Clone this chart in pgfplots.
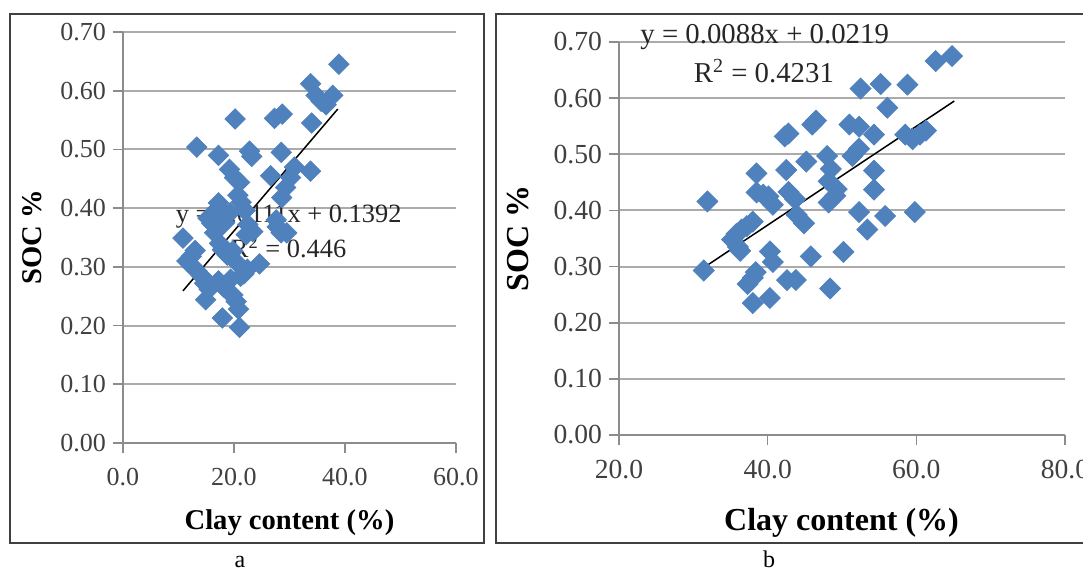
\documentclass[border=0pt]{standalone}
\usepackage{fontspec}
\setmainfont{Liberation Serif}
\usepackage{pgfplots}
\pgfplotsset{compat=1.18}
\definecolor{mk}{HTML}{4F81BD}
\definecolor{gridc}{HTML}{ABABAB}
\definecolor{axc}{HTML}{8C8C8C}
\definecolor{tkc}{HTML}{404040}
\definecolor{boxc}{HTML}{404040}
\pgfplotsset{excel/.style={
  scale only axis, clip=false,
  axis x line*=bottom, axis y line*=left,
  axis line style={axc, line width=0.8pt},
  ymin=0, ymax=0.7, ytick={0,0.1,0.2,0.3,0.4,0.5,0.6,0.7},
  ymajorgrids, major grid style={gridc, line width=1pt},
  tick align=outside, major tick length=5pt,
  major tick style={axc, line width=0.8pt},
  /pgf/number format/assume math mode=true,
  ticklabel style={text=tkc},
  yticklabel style={/pgf/number format/.cd, fixed, fixed zerofill, precision=2},
  xticklabel style={/tikz/yshift=-4pt, /pgf/number format/.cd, fixed, fixed zerofill, precision=1},
}}
\begin{document}
\begin{tikzpicture}
\useasboundingbox (0,0) rectangle (541.5pt,285.5pt);
% panel frames
\draw[boxc, line width=0.75pt] (5pt,14pt) rectangle (242pt,278.5pt);
\draw[boxc, line width=0.75pt] (545pt,278.5pt) -- (248pt,278.5pt) -- (248pt,14pt) -- (545pt,14pt);
\node[anchor=base, font=\fontsize{12}{14}\selectfont] at (120pt,1.5pt) {a};
\node[anchor=base, font=\fontsize{12}{14}\selectfont] at (384.5pt,1.5pt) {b};

% ---------------- panel a ----------------
\begin{axis}[excel,
  at={(61.5pt,64pt)}, anchor=south west,
  width=166.5pt, height=205.5pt,
  xmin=0, xmax=60, xtick={0,20,40,60},
  tick label style={font=\fontsize{13}{15}\selectfont},
  xlabel={Clay content (\%)}, ylabel={SOC \%},
  label style={font=\bfseries\fontsize{14.3}{16}\selectfont},
  xlabel style={at={(axis description cs:0.5,-0.195)}, anchor=center},
  ylabel style={at={(axis description cs:-0.273,0.501)}, anchor=center},
]
\addplot[only marks, mark=square*, mark size=3.6pt, mark options={rotate=45, fill=mk, draw=mk}]
coordinates {
(10.8,0.349) (11.5,0.310) (12.3,0.318) (13.0,0.328) (12.4,0.302) (13.3,0.293)
(14.2,0.284) (14.7,0.272) (15.5,0.262) (14.9,0.244) (13.3,0.504) (17.2,0.490)
(15.3,0.383) (16.0,0.374) (16.8,0.397) (17.2,0.409) (16.5,0.358) (17.4,0.340)
(17.9,0.329) (18.8,0.320) (19.8,0.327) (20.3,0.309) (17.2,0.276) (18.1,0.266)
(19.0,0.258) (19.8,0.252) (19.4,0.279) (20.4,0.241) (20.8,0.228) (17.9,0.213)
(21.0,0.197) (21.2,0.284) (21.8,0.288) (22.4,0.296) (19.2,0.466) (20.1,0.452)
(21.0,0.444) (20.7,0.422) (21.3,0.410) (22.0,0.396) (19.3,0.392) (18.3,0.375)
(22.5,0.372) (22.2,0.355) (23.4,0.360) (20.2,0.552) (22.8,0.497) (23.2,0.488)
(24.6,0.305) (26.6,0.455) (27.3,0.553) (28.7,0.560) (28.5,0.495) (27.6,0.380)
(27.8,0.368) (28.5,0.358) (29.5,0.358) (28.6,0.418) (29.3,0.435) (30.2,0.452)
(30.9,0.470) (33.8,0.463) (34.0,0.545) (33.8,0.612) (34.8,0.592) (35.7,0.582)
(36.6,0.576) (37.8,0.592) (38.9,0.645)
};
\addplot[black, line width=0.75pt] coordinates {(10.8,0.2591) (38.7,0.5688)};
\node[font=\fontsize{13.2}{15}\selectfont, text=black!85] at (axis cs:29.85,0.385) {y = 0.0111x + 0.1392};
\node[font=\fontsize{13.2}{15}\selectfont, text=black!85] at (axis cs:29.85,0.3335) {R\textsuperscript{2} = 0.446};
\end{axis}

% ---------------- panel b ----------------
\begin{axis}[excel,
  at={(309.5pt,68pt)}, anchor=south west,
  width=223pt, height=196.5pt,
  xmin=20, xmax=80, xtick={20,40,60,80},
  tick label style={font=\fontsize{13.8}{16}\selectfont},
  xlabel={Clay content (\%)}, ylabel={SOC \%},
  label style={font=\bfseries\fontsize{16}{18}\selectfont},
  xlabel style={at={(axis description cs:0.499,-0.224)}, anchor=center},
  ylabel style={at={(axis description cs:-0.227,0.501)}, anchor=center},
]
\addplot[only marks, mark=square*, mark size=3.7pt, mark options={rotate=45, fill=mk, draw=mk}]
coordinates {
(31.4,0.293) (31.9,0.416) (35.2,0.348) (36.0,0.335) (35.8,0.358) (36.5,0.366)
(37.2,0.372) (38.0,0.380) (36.3,0.328) (37.3,0.269) (38.0,0.280) (38.4,0.290)
(38.0,0.235) (40.3,0.244) (38.5,0.466) (38.5,0.432) (39.4,0.428) (40.1,0.425)
(40.7,0.410) (40.3,0.327) (40.7,0.308) (42.3,0.532) (42.8,0.537) (42.5,0.472)
(42.8,0.433) (43.7,0.420) (42.6,0.276) (43.8,0.276) (43.9,0.392) (44.9,0.377)
(45.2,0.487) (46.0,0.553) (46.5,0.560) (45.8,0.318) (48.0,0.497) (48.5,0.474)
(48.2,0.452) (49.3,0.438) (49.1,0.426) (48.2,0.414) (48.4,0.261) (50.2,0.326)
(51.0,0.553) (52.3,0.549) (51.4,0.497) (52.3,0.510) (52.5,0.617) (52.3,0.397)
(53.4,0.366) (54.3,0.535) (54.3,0.471) (54.3,0.437) (55.2,0.625) (56.1,0.583)
(55.8,0.390) (58.5,0.535) (58.8,0.624) (59.5,0.527) (59.8,0.397) (60.5,0.535)
(61.3,0.542) (62.6,0.666) (64.8,0.675)
};
\addplot[black, line width=0.75pt] coordinates {(31.3,0.2973) (65.1,0.5948)};
\node[font=\fontsize{14.4}{16}\selectfont, text=black!85] at (axis cs:39.6,0.709) {y = 0.0088x + 0.0219};
\node[font=\fontsize{14.4}{16}\selectfont, text=black!85] at (axis cs:39.5,0.648) {R\textsuperscript{2} = 0.4231};
\end{axis}
\end{tikzpicture}
\end{document}
